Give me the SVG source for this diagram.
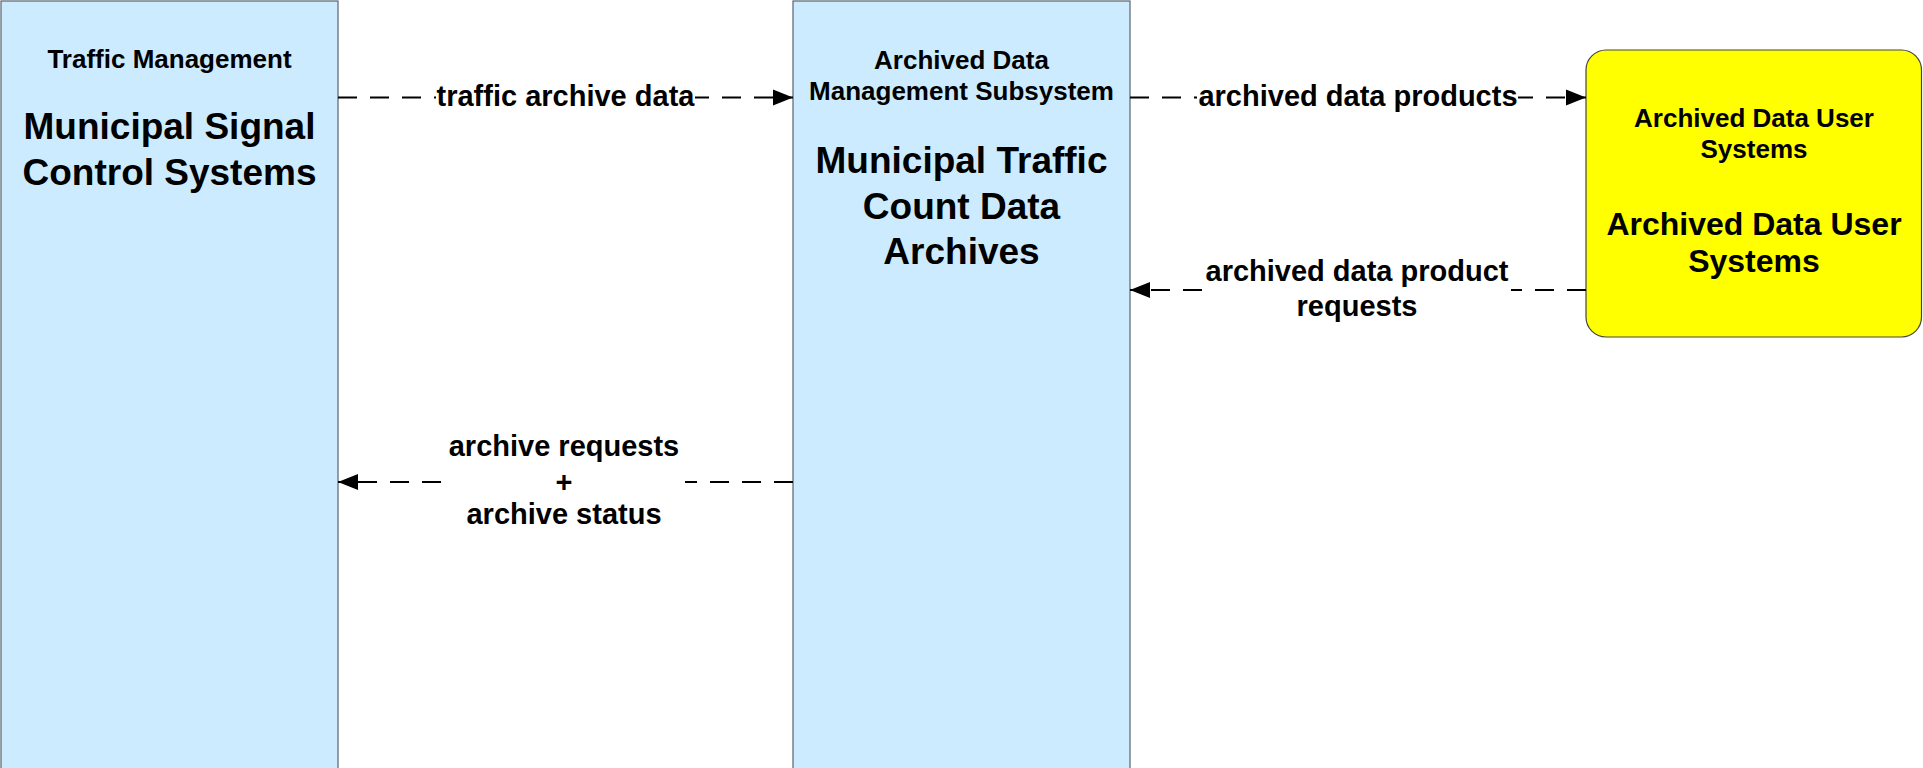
<svg xmlns="http://www.w3.org/2000/svg" width="1923" height="768" viewBox="0 0 1923 768">
<style>
.box{fill:#CCEBFF;stroke:#5a6470;stroke-width:1.2}
.ext{fill:#FFFF00;stroke:#444;stroke-width:1.2}
text{font-family:"Liberation Sans",Arial,Helvetica,sans-serif;font-weight:bold;fill:#000;text-anchor:middle}
.t1{font-size:26px}
.t2{font-size:37px}
.t3{font-size:32px}
.lbl{font-size:29px}
.flow{fill:none;stroke:#000;stroke-width:2;stroke-dasharray:19 13}
.bg{fill:#fff}
</style>
<defs>
<marker id="arr" markerUnits="userSpaceOnUse" markerWidth="22" markerHeight="18" refX="20" refY="8" orient="auto" overflow="visible">
<path d="M0,0 L20,8 L0,16 z" fill="#000"/>
</marker>
</defs>
<g id="node-municipal-signal">
<rect class="box" x="1" y="1" width="337" height="800"/>
<text class="t1" x="169.5" y="68">Traffic Management</text>
<text class="t2" x="169.5" y="139">Municipal Signal</text>
<text class="t2" x="169.5" y="185">Control Systems</text>
</g>
<g id="node-traffic-count-archives">
<rect class="box" x="793" y="1" width="337" height="800"/>
<text class="t1" x="961.5" y="69">Archived Data</text>
<text class="t1" x="961.5" y="100">Management Subsystem</text>
<text class="t2" x="961.5" y="173">Municipal Traffic</text>
<text class="t2" x="961.5" y="219">Count Data</text>
<text class="t2" x="961.5" y="264">Archives</text>
</g>
<g id="node-archived-data-users">
<rect class="ext" x="1586" y="50" width="335.5" height="287" rx="20" ry="20"/>
<text class="t1" x="1754" y="127">Archived Data User</text>
<text class="t1" x="1754" y="158">Systems</text>
<text class="t3" x="1754" y="235">Archived Data User</text>
<text class="t3" x="1754" y="272">Systems</text>
</g>
<g id="connectors">
<g id="flow-traffic-archive-data">
<line class="flow" x1="338" y1="97.5" x2="793" y2="97.5" marker-end="url(#arr)"/>
<rect class="bg" x="436" y="80" width="259" height="34"/>
<text class="lbl" x="565.5" y="106">traffic archive data</text>
</g>
<g id="flow-archived-data-products">
<line class="flow" x1="1130" y1="97.5" x2="1586" y2="97.5" marker-end="url(#arr)"/>
<rect class="bg" x="1197" y="80" width="321" height="34"/>
<text class="lbl" x="1358" y="106">archived data products</text>
</g>
<g id="flow-archived-data-product-requests">
<line class="flow" x1="1586" y1="290" x2="1130" y2="290" marker-end="url(#arr)"/>
<rect class="bg" x="1203" y="258" width="308" height="67"/>
<text class="lbl" x="1357" y="281">archived data product</text>
<text class="lbl" x="1357" y="316">requests</text>
</g>
<g id="flow-archive-requests-status">
<line class="flow" x1="793" y1="482" x2="338" y2="482" marker-end="url(#arr)"/>
<rect class="bg" x="443" y="432" width="242" height="100"/>
<text class="lbl" x="564" y="456">archive requests</text>
<text class="lbl" x="564" y="492">+</text>
<text class="lbl" x="564" y="524">archive status</text>
</g>
</g>
</svg>
